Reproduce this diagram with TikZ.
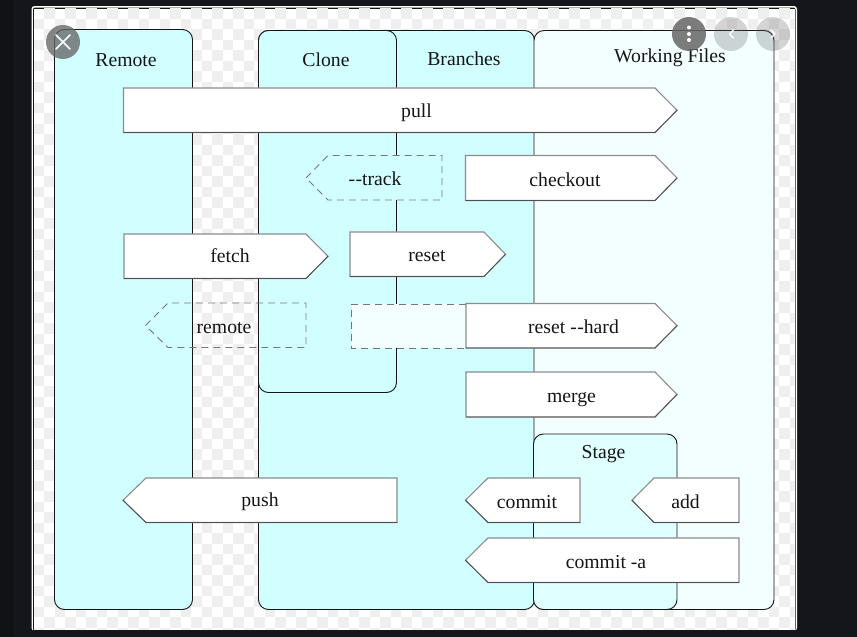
\documentclass[tikz,border=0pt]{standalone}
\usepackage{fontspec}
\setmainfont{Liberation Serif}
\definecolor{pagebg}{HTML}{15161B}
\definecolor{pagedark}{HTML}{101216}
\definecolor{chk}{HTML}{EFEFEF}
\definecolor{cyanA}{HTML}{D1FFFF}
\definecolor{cyanB}{HTML}{F3FFFF}
\definecolor{cyanC}{HTML}{E0FFFF}
\definecolor{ink}{HTML}{151515}
\definecolor{edgeL}{HTML}{8C8C8C}
\definecolor{edgeD}{HTML}{505050}
\tikzset{
  lane/.style={draw=ink,line width=0.9pt,rounded corners=10pt},
  boxedge/.style={draw=edgeL,line width=1.1pt,fill=white,line join=miter},
  boxlow/.style={draw=edgeD,line width=0.8pt},
  dashedge/.style={draw=edgeL!85!black,line width=0.9pt,dash pattern=on 7pt off 5pt},
  lbl/.style={anchor=base,inner sep=0pt,text=ink,yshift=-0.9pt,font=\fontsize{19.7}{22}\selectfont},
  uibtn/.style={circle,inner sep=0pt,minimum size=34pt,draw=none},
  uimark/.style={draw=white,line width=1.6pt,line cap=round,line join=round},
}
% right-pointing tag: x-left, x-shoulder, x-tip, y-top, y-bottom
\newcommand{\tagright}[5]{%
  \path[boxedge] (#1,#4) -- (#2,#4) -- (#3,{(#4+#5)/2}) -- (#2,#5) -- (#1,#5) -- cycle;
  \draw[boxlow] (#1,#5) -- (#2,#5) -- (#3,{(#4+#5)/2});}
% left-pointing tag: x-tip, x-shoulder, x-right, y-top, y-bottom
\newcommand{\tagleft}[5]{%
  \path[boxedge] (#1,{(#4+#5)/2}) -- (#2,#4) -- (#3,#4) -- (#3,#5) -- (#2,#5) -- cycle;
  \draw[boxlow] (#1,{(#4+#5)/2}) -- (#2,#5) -- (#3,#5);}
\begin{document}
\begin{tikzpicture}[x=1pt,y=-1pt]
\useasboundingbox (0,0) rectangle (857,637);
% page
\fill[pagebg] (0,0) rectangle (857,637);
\fill[pagedark] (0,0) rectangle (14,637);
% panel
\fill[white,rounded corners=3pt] (31.5,6) rectangle (797,631);
\fill[pagebg,rounded corners=2pt] (33,7.5) rectangle (795.5,631);
\fill[white] (34,8.5) rectangle (794.5,630);
\begin{scope}
  \clip (34,8.5) rectangle (794.5,630);
  \foreach \c in {0,...,72}{
    \foreach \r in {0,...,59}{
      \pgfmathparse{int(mod(\c+\r,2))}
      \ifnum\pgfmathresult=1
        \fill[chk] ({33.5+10.5*\c},{8+10.5*\r}) rectangle ++(10.5,10.5);
      \fi
    }
  }
\end{scope}
\fill[pagebg] (31.5,630) rectangle (797,637);
% lanes
\path[lane,fill=cyanA] (54.5,29.5) rectangle (192.5,609.5);
\path[lane,fill=cyanA] (258.5,30.5) rectangle (534.5,609.5);
\path[lane,fill=cyanA] (258.5,30.5) rectangle (396.5,392.5);
\path[lane,fill=cyanB] (534,30.5) rectangle (774,609.5);
\path[lane,fill=cyanC] (533.5,434) rectangle (677,609.5);
\node[lbl] (remoteT) at (126,66) {Remote};
\node[lbl] (cloneT) at (326,66) {Clone};
\node[lbl] (branchT) at (464,64.5) {Branches};
\node[lbl] (workT) at (670,61.5) {Working Files};
\node[lbl] (stageT) at (603.5,458) {Stage};
% tags
\tagright{123.5}{655}{677}{88}{132.5}
\node[lbl] (pull) at (416.5,117) {pull};
\path[fill=cyanA] (306,178) -- (328,155.5) -- (442,155.5) -- (442,200) -- (328,200) -- cycle;
\path[dashedge] (306,178) -- (328,155.5) -- (442,155.5) -- (442,200) -- (328,200) -- cycle;
\node[lbl] (track) at (375,185) {-\kern0.5pt-track};
\tagright{465.5}{655}{677}{155.5}{200.5}
\node[lbl] (checkout) at (565,185.5) {checkout};
\tagright{124}{306}{328}{234}{278.5}
\node[lbl] (fetch) at (230,261.5) {fetch};
\tagright{350}{484}{505.5}{232}{276.5}
\node[lbl] (reset) at (427,261) {reset};
\path[dashedge] (145.5,325.5) -- (168,303) -- (306,303) -- (306,347.5) -- (168,347.5) -- cycle;
\node[lbl] (remote) at (224,332.5) {remote};
\path[fill=cyanB] (351.5,304) rectangle (466,348);
\path[dashedge] (466,304) -- (351.5,304) -- (351.5,348) -- (466,348);
\tagright{466}{655}{677}{303.5}{348}
\node[lbl] (hard) at (573.5,332.5) {reset -\kern0.5pt-hard};
\tagright{466}{655}{677}{372}{417}
\node[lbl] (merge) at (571.5,402) {merge};
\tagleft{123}{146}{397}{478}{522.5}
\node[lbl] (push) at (260,506) {push};
\tagleft{465.5}{488}{580}{478}{522.5}
\node[lbl] (commit) at (527,507.5) {commit};
\tagleft{632}{654}{739}{478}{522.5}
\node[lbl] (add) at (685.5,507.5) {add};
\tagleft{465.5}{488}{739}{538}{582.5}
\node[lbl] (commita) at (606,567.5) {commit -a};
% viewer buttons
\node[uibtn,fill=black!60,fill opacity=0.78] (closeB) at (63,42) {};
\draw[uimark,line width=1.5pt] (56,35) -- (70,49) (70,35) -- (56,49);
\node[uibtn,fill=black!60,fill opacity=0.85] (moreB) at (689,34) {};
\fill[white] (689,27.5) circle (2pt) (689,34) circle (2pt) (689,40) circle (2pt);
\node[uibtn,fill=black!60,fill opacity=0.28] (prevB) at (731,34) {};
\draw[uimark,opacity=0.85] (733.5,30) -- (729.5,34) -- (733.5,38);
\node[uibtn,fill=black!60,fill opacity=0.28] (nextB) at (773,34) {};
\draw[uimark,opacity=0.85] (771,30) -- (775,34) -- (771,38);
\end{tikzpicture}
\end{document}
